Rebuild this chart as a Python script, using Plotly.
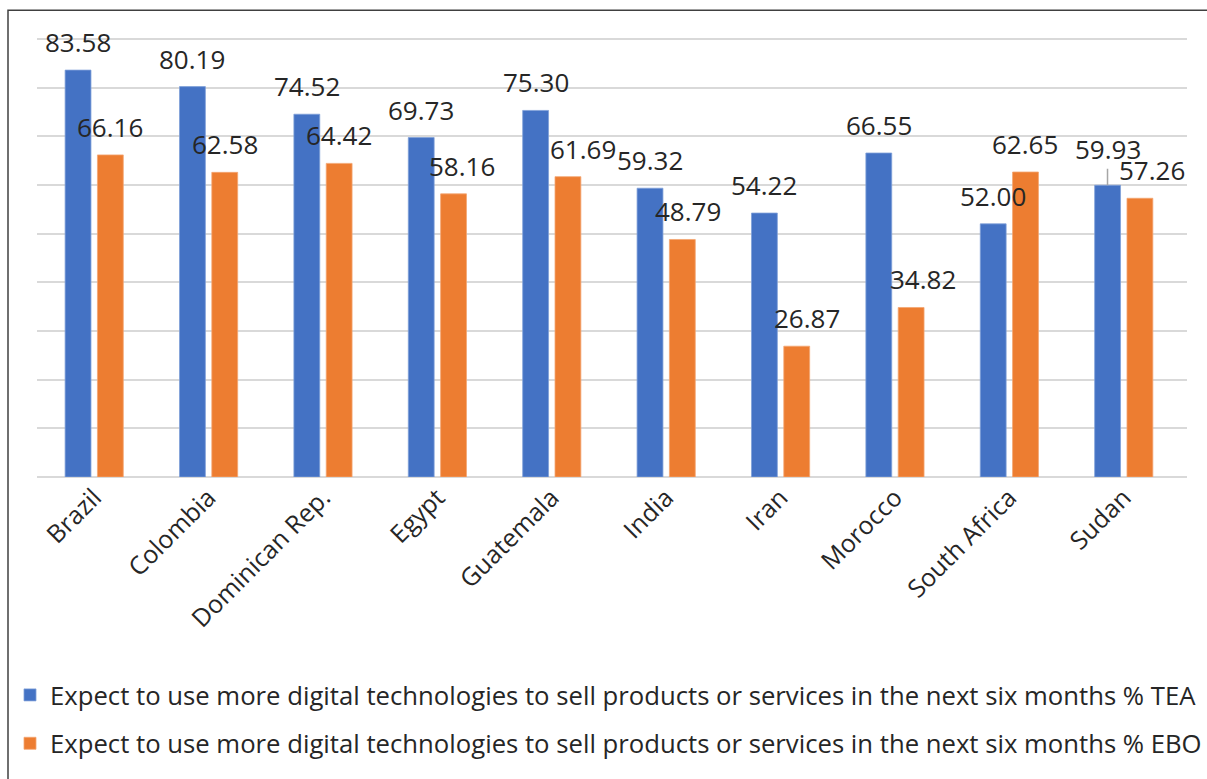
import plotly.graph_objects as go

countries = ["Brazil", "Colombia", "Dominican Rep.", "Egypt", "Guatemala",
             "India", "Iran", "Morocco", "South Africa", "Sudan"]
tea = [83.58, 80.19, 74.52, 69.73, 75.30, 59.32, 54.22, 66.55, 52.00, 59.93]
ebo = [66.16, 62.58, 64.42, 58.16, 61.69, 48.79, 26.87, 34.82, 62.65, 57.26]
grid_vals = [0, 10, 20, 30, 40, 50, 60, 70, 80, 90]
name_tea = "Expect to use more digital technologies to sell products or services in the next six months % TEA"
name_ebo = "Expect to use more digital technologies to sell products or services in the next six months % EBO"

# label nudges (pixels) to mimic the original label placement
tea_dx = [0, 0, 0, 0, 0, 0, 0, 0, 0, 0]
ebo_dx = [0, 0, 0, 8, 14.5, 6, 10, 12, -1, 12]

BLUE = "#4472C4"
ORANGE = "#ED7D31"
W, H = 1207, 779
ML, MR, MT, MB = 37, 20, 34, 299
YMAX = 91
BARGAP, GROUPGAP = 0.435, 0.2
FONT = "Open Sans, DejaVu Sans, sans-serif"

fig = go.Figure()
fig.add_trace(go.Bar(x=countries, y=tea, name=name_tea, marker_color=BLUE, legendgroup="a",
                     marker_line=dict(color="#7f9fd8", width=0.8)))
fig.add_trace(go.Bar(x=countries, y=ebo, name=name_ebo, marker_color=ORANGE, legendgroup="b",
                     marker_line=dict(color="#f4a672", width=0.8)))

cat_px = (W - ML - MR) / len(countries)
slot = (1 - BARGAP) * cat_px / 2
lab_font = dict(family=FONT, size=26, color="#262626")
annots = []
for i, c in enumerate(countries):
    for val, off, dx in ((tea[i], -slot / 2, tea_dx[i]), (ebo[i], slot / 2, ebo_dx[i])):
        if c == "Sudan" and off < 0:
            annots.append(dict(x=c, y=val, xref="x", yref="y", text=f"{val:.2f}",
                               showarrow=True, arrowhead=0, arrowcolor="#a6a6a6",
                               arrowwidth=1.5, ax=0, ay=-36, xshift=off + dx,
                               font=lab_font, standoff=0))
        else:
            annots.append(dict(x=c, y=val, xref="x", yref="y", text=f"{val:.2f}",
                               showarrow=False, yanchor="middle", yshift=28,
                               xshift=off + dx, font=lab_font))

pw = W - ML - MR
ph = H - MT - MB
frame = dict(type="rect", xref="paper", yref="paper",
             x0=(8 - ML) / pw, x1=(W + 20 - ML) / pw,
             y0=-(H + 20 - MT - ph) / ph, y1=(ph + MT - 10) / ph,
             line=dict(color="#404040", width=1.5), fillcolor="rgba(0,0,0,0)", layer="below")

fig.update_layout(
    width=W, height=H,
    margin=dict(l=ML, r=MR, t=MT, b=MB),
    plot_bgcolor="white", paper_bgcolor="white",
    barmode="group", bargap=BARGAP, bargroupgap=GROUPGAP,
    annotations=annots,
    shapes=[frame],
    showlegend=True,
    legend=dict(orientation="v", x=(14 - ML) / pw, xanchor="left",
                y=-(676 - MT - ph) / ph, yanchor="top",
                font=dict(family=FONT, size=25.7, color="#262626"),
                tracegroupgap=12, itemwidth=30, bgcolor="rgba(0,0,0,0)"),
    xaxis=dict(tickangle=-45, showgrid=False, showline=False, ticks="",
               tickfont=dict(family=FONT, size=25, color="#262626")),
    yaxis=dict(range=[0, YMAX], tickmode="array", tickvals=grid_vals,
               showticklabels=False, showgrid=True,
               gridcolor="#d9d9d9", gridwidth=1.5, zeroline=True, zerolinecolor="#d9d9d9",
               zerolinewidth=1.5, showline=False, ticks=""),
)

fig.write_html("out.html", post_script="document.body.style.margin='0';",
               config={"displayModeBar": False})
